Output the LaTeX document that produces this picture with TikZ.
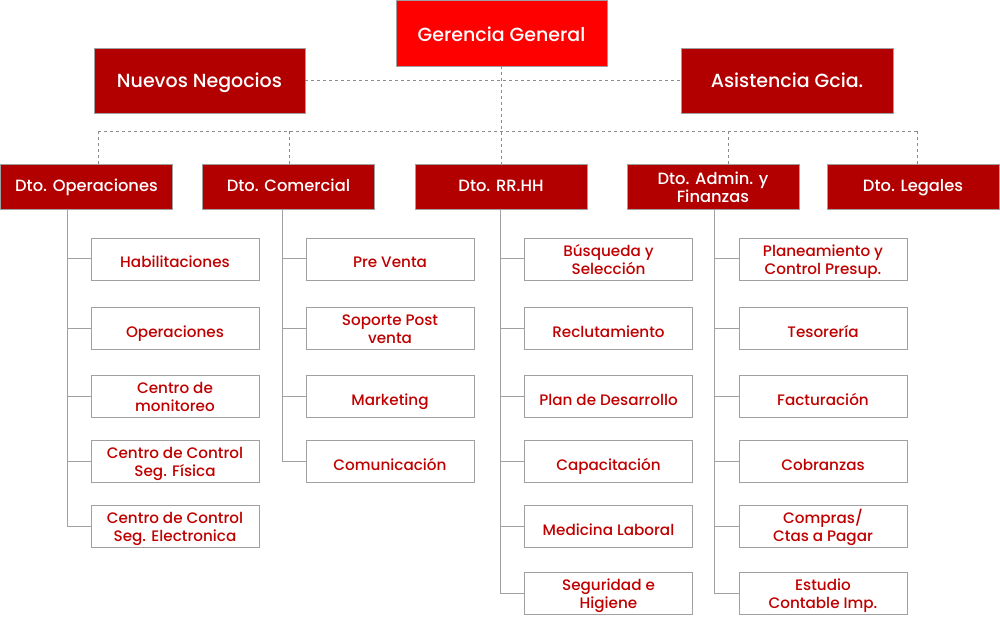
\documentclass[tikz,border=0pt]{standalone}
\usepackage{fontspec}
\setmainfont{Poppins Medium}
\definecolor{brightred}{HTML}{FF0000}
\definecolor{darkred}{HTML}{B20000}
\definecolor{textred}{HTML}{C00000}
\definecolor{edge}{HTML}{A0A0A0}
\definecolor{dashgray}{HTML}{8C8C8C}
\tikzset{
  top/.style={draw=edge, fill=darkred, text=white, minimum width=211pt, minimum height=65pt,
    inner sep=0pt, font=\fontsize{19}{21}\selectfont, text height=17.6pt, text depth=4pt},
  dept/.style={draw=edge, fill=darkred, text=white, minimum width=172pt, minimum height=45pt,
    inner sep=0pt, align=center, font=\fontsize{16.3}{17.6}\selectfont,
    text height=15pt, text depth=4pt},
  unit/.style={draw=edge, fill=white, text=textred, minimum width=168pt, minimum height=42pt,
    inner sep=0pt, align=center, font=\fontsize{15.2}{18.4}\selectfont,
    text height=22pt, text depth=4pt},
  two/.style={text height=35.5pt},
  dashline/.style={draw=dashgray, dashed, line width=0.8pt},
  link/.style={draw=edge, line width=1pt}
}
\begin{document}
\begin{tikzpicture}[x=1pt, y=-1pt]
  \useasboundingbox (0,0) rectangle (1000,617);
  \draw
    (501.5,33) node[top, fill=brightred, minimum height=66pt, text height=22pt] (gg){Gerencia General}
    (199.5,80.5) node[top] (nn){Nuevos Negocios}
    (787,80.5) node[top, minimum width=212pt] (ag){Asistencia Gcia.};
  \draw
    (86.5,186.5) node[dept] (op){Dto. Operaciones}
    (288.5,186.5) node[dept] (com){Dto. Comercial}
    (501,186.5) node[dept] (rh){Dto. RR.HH}
    (713,186.5) node[dept, two] (adm){Dto. Admin. y\\Finanzas}
    (913,186.5) node[dept] (leg){Dto. Legales};
  \draw
    (175,259) node[unit] (op1){Habilitaciones}
    (175,328) node[unit] (op2){Operaciones}
    (175,396) node[unit, two] (op3){Centro de\\monitoreo}
    (175,461) node[unit, two] (op4){Centro de Control\\Seg. Física}
    (175,526) node[unit, two] (op5){Centro de Control\\Seg. Electronica};
  \draw
    (390,259) node[unit] (com1){Pre Venta}
    (390,328) node[unit, two] (com2){Soporte Post\\venta}
    (390,396) node[unit] (com3){Marketing}
    (390,461) node[unit] (com4){Comunicación};
  \draw
    (608.5,259) node[unit, two] (rh1){Búsqueda y\\Selección}
    (608.5,328) node[unit] (rh2){Reclutamiento}
    (608.5,396) node[unit] (rh3){Plan de Desarrollo}
    (608.5,461) node[unit] (rh4){Capacitación}
    (608.5,526) node[unit] (rh5){Medicina Laboral}
    (608.5,593) node[unit, two] (rh6){Seguridad e\\Higiene};
  \draw
    (823,259) node[unit, two] (adm1){Planeamiento y\\Control Presup.}
    (823,328) node[unit] (adm2){Tesorería}
    (823,396) node[unit] (adm3){Facturación}
    (823,461) node[unit] (adm4){Cobranzas}
    (823,526) node[unit, two] (adm5){Compras/\\Ctas a Pagar}
    (823,593) node[unit, two] (adm6){Estudio\\Contable Imp.};
  \begin{scope}[dashline]
    \draw (nn.east) -- (ag.west);
    \draw (gg.south) -- (gg.south |- rh.north);
    \coordinate (b1) at (98,131);
    \coordinate (b2) at (289,131);
    \coordinate (b4) at (728,131);
    \coordinate (b5) at (917,131);
    \draw (b1) -- (b5);
    \draw (b1) -- (b1 |- op.north);
    \draw (b2) -- (b2 |- com.north);
    \draw (b4) -- (b4 |- adm.north);
    \draw (b5) -- (b5 |- leg.north);
  \end{scope}
  \begin{scope}[link]
    \coordinate (opv) at (67,209);
    \coordinate (comv) at (282,209);
    \coordinate (rhv) at (500,209);
    \coordinate (admv) at (714,209);
    \draw (opv) |- (op5.west);
    \foreach \i in {1,...,4} \draw (opv |- op\i.west) -- (op\i.west);
    \draw (comv) |- (com4.west);
    \foreach \i in {1,...,3} \draw (comv |- com\i.west) -- (com\i.west);
    \draw (rhv) |- (rh6.west);
    \foreach \i in {1,...,5} \draw (rhv |- rh\i.west) -- (rh\i.west);
    \draw (admv) |- (adm6.west);
    \foreach \i in {1,...,5} \draw (admv |- adm\i.west) -- (adm\i.west);
  \end{scope}
\end{tikzpicture}
\end{document}
